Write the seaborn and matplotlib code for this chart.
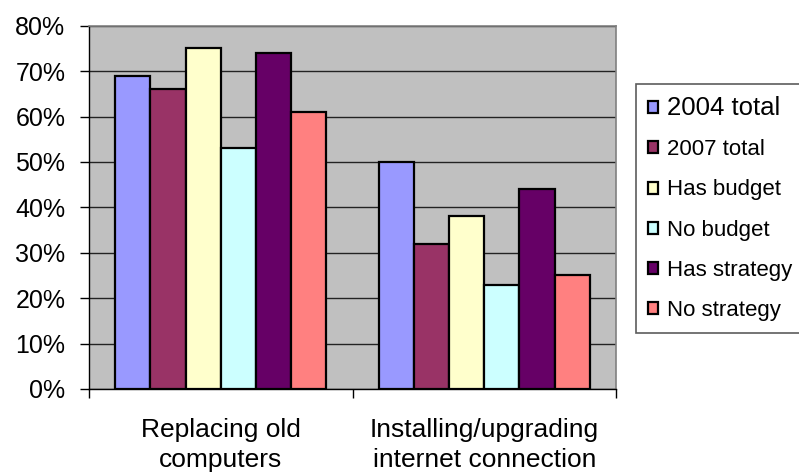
import matplotlib
matplotlib.use("Agg")
import matplotlib.pyplot as plt
import seaborn as sns
import pandas as pd
from matplotlib.ticker import FixedLocator, PercentFormatter

categories = ["Replacing old\ncomputers", "Installing/upgrading\ninternet connection"]
series = ["2004 total", "2007 total", "Has budget", "No budget", "Has strategy", "No strategy"]
values_2004 = [69, 50]
values_2007 = [66, 32]
has_budget = [75, 38]
no_budget = [53, 23]
has_strategy = [74, 44]
no_strategy = [61, 25]
colors = ["#9999FF", "#993366", "#FFFFCC", "#CCFFFF", "#660066", "#FF8080"]

all_vals = [values_2004, values_2007, has_budget, no_budget, has_strategy, no_strategy]
rows = []
for s, vals in zip(series, all_vals):
    for c, v in zip(categories, vals):
        rows.append({"category": c, "series": s, "value": v})
df = pd.DataFrame(rows)

sns.set_theme(style="white")
plt.rcParams["font.family"] = ["Liberation Sans", "DejaVu Sans"]

fig = plt.figure(figsize=(7.99, 4.75), dpi=100)
ax = fig.add_axes([89 / 799, 1 - 389 / 475, (616 - 89) / 799, (389 - 25.7) / 475])
ax.set_facecolor("#C0C0C0")

sns.barplot(data=df, x="category", y="value", hue="series", palette=colors,
            edgecolor="black", linewidth=1.6, width=0.8, ax=ax, saturation=1)

ax.set_ylim(0, 80)
ax.set_xlim(-0.5, 1.5)
ax.set_yticks(range(0, 81, 10))
ax.yaxis.set_major_formatter(PercentFormatter(decimals=0))
ax.yaxis.grid(True, color="#222222", linewidth=1.0)
ax.set_axisbelow(True)
ax.set_xlabel("")
ax.set_ylabel("")

for s in ["top", "right"]:
    ax.spines[s].set_color("#808080")
    ax.spines[s].set_linewidth(1.2)
for s in ["left", "bottom"]:
    ax.spines[s].set_color("black")
    ax.spines[s].set_linewidth(1.0)

ax.tick_params(axis="y", which="major", length=6.5, width=1, color="black",
               direction="out", left=True, labelsize=18, pad=10.5, labelcolor="black")
ax.tick_params(axis="x", which="major", length=0, labelsize=19, pad=21, labelcolor="black")
ax.xaxis.set_minor_locator(FixedLocator([-0.5, 0.5, 1.5]))
ax.tick_params(axis="x", which="minor", length=6.5, width=1, color="black",
               direction="out", bottom=True)
for lab in ax.get_xticklabels():
    lab.set_linespacing(1.32)

ax.legend_.remove()
handles, labels = ax.get_legend_handles_labels()
leg = fig.legend(handles, labels, loc="upper left",
                 bbox_to_anchor=(636 / 799, 1 - 84 / 475),
                 fontsize=16, frameon=True, fancybox=False, edgecolor="#333333",
                 handlelength=0.45, handleheight=0.45, handletextpad=0.4,
                 labelspacing=0.86, borderpad=0.55, borderaxespad=0)
leg.get_frame().set_linewidth(1.2)
leg.get_texts()[0].set_fontsize(18.5)
for t in leg.get_texts():
    t.set_color("black")

fig.savefig("out.png", dpi=100, facecolor="white")
